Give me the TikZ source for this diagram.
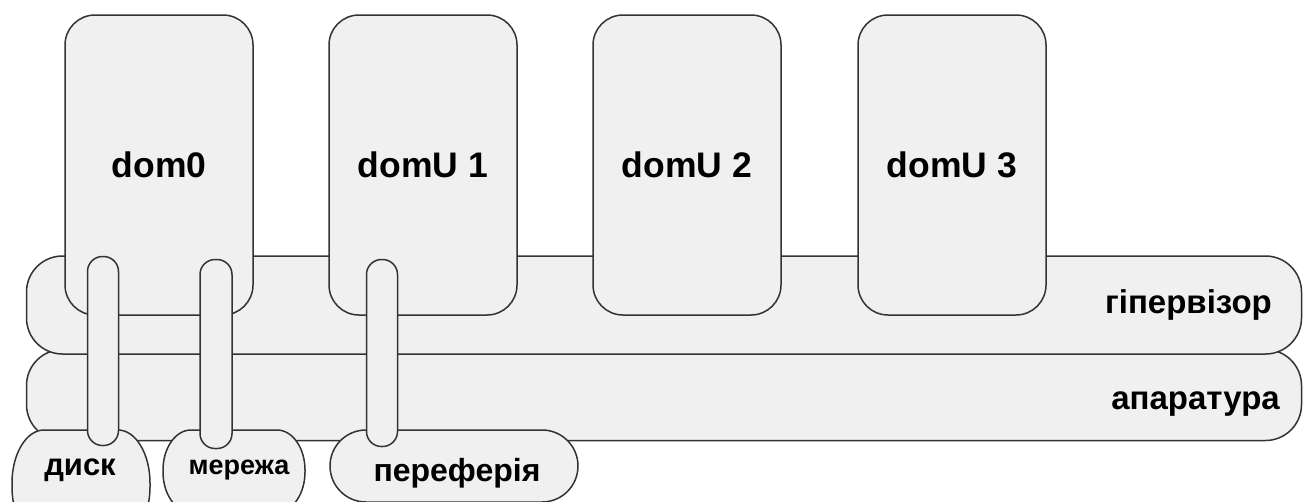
\documentclass[tikz,border=0pt]{standalone}
\usepackage{fontspec}
\setmainfont{Liberation Sans}
\definecolor{panel}{HTML}{F0F0F0}
\definecolor{edge}{HTML}{333333}
\tikzset{
  shellbox/.style={draw=edge, fill=panel, line width=1.5pt, inner sep=0pt},
  layerbar/.style={shellbox, rounded corners=36pt},
  guestbox/.style={shellbox, rounded corners=30pt, minimum width=188pt, minimum height=300pt,
                 font=\bfseries\fontsize{35.5}{35.5}\selectfont},
  chanpill/.style={shellbox, rounded corners=15pt, minimum width=31pt, minimum height=189pt},
  laytag/.style={inner sep=0pt, font=\bfseries\fontsize{33}{33}\selectfont, anchor=east},
  devtag/.style={inner sep=0pt, font=\bfseries\fontsize{31}{31}\selectfont}
}
% rounded box with elliptical corners: left, right, top, bottom, x radius, y radius
\newcommand\ovalshape[6]{%
  \draw[shellbox] (#1+#5,#3) -- (#2-#5,#3)
    arc[start angle=270, end angle=360, x radius=#5, y radius=#6] -- (#2,#4-#6)
    arc[start angle=0, end angle=90, x radius=#5, y radius=#6] -- (#1+#5,#4)
    arc[start angle=90, end angle=180, x radius=#5, y radius=#6] -- (#1,#3+#6)
    arc[start angle=180, end angle=270, x radius=#5, y radius=#6] -- cycle;}
\begin{document}
\begin{tikzpicture}[x=1pt,y=-1pt]
\useasboundingbox (0,0) rectangle (1303,501);
\clip (0,0) rectangle (1303,501);
\fill[white] (0,0) rectangle (1303,501);

% hardware and hypervisor layers
\node[layerbar, minimum width=1275pt, minimum height=91pt] (hw) at (664,395) {};
\node[layerbar, minimum width=1275pt, minimum height=98pt] (hv) at (664,305) {};
\node[laytag] (hvlbl) at (1272,305) {гіпервізор};
\node[laytag] (hwlbl) at (1280,404) {апаратура};

% guest domains
\node[guestbox] (d0) at (159,165) {dom0};
\node[guestbox] (d1) at (423,165) {domU 1};
\node[guestbox] (d2) at (687,165) {domU 2};
\node[guestbox] (d3) at (952,165) {domU 3};

% physical devices
\ovalshape{12}{150}{430}{540}{32}{53}
\ovalshape{163}{305}{430}{512}{28}{40}
\ovalshape{330}{578}{430}{502}{36}{36}
\node[devtag] (disklbl) at (80,470) {диск};
\node[devtag, font=\bfseries\fontsize{27}{27}\selectfont] (netlbl) at (239,470) {мережа};
\node[devtag, font=\bfseries\fontsize{32}{32}\selectfont] (perlbl) at (457,473) {переферія};

% device channels through the layers
\node[chanpill] (ldisk) at (103,351) {};
\node[chanpill, minimum width=32pt] (lnet) at (216,354) {};
\node[chanpill, minimum height=187pt] (lper) at (382,353) {};
\end{tikzpicture}
\end{document}
